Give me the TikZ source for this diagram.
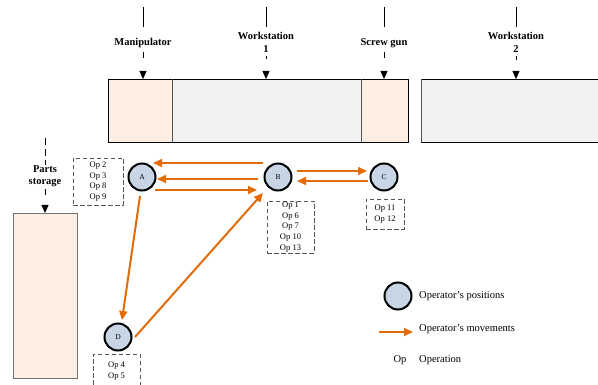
\documentclass[tikz,border=0pt]{standalone}
\usepackage{fontspec}
\setmainfont{Liberation Serif}
\usetikzlibrary{arrows.meta,calc}
\definecolor{peach}{HTML}{FDEEE3}
\definecolor{lgray}{HTML}{F2F2F2}
\definecolor{opblue}{HTML}{C8D5E5}
\definecolor{orng}{HTML}{E36C0A}
\definecolor{dgray}{HTML}{555555}
\definecolor{bgray}{HTML}{767171}
\begin{document}
\begin{tikzpicture}[x=1pt,y=-1pt,
  area/.style={draw=none, minimum width=#1, inner sep=0pt, anchor=north west, minimum height=63pt},
  lab/.style={font=\bfseries\fontsize{10.5}{13}\selectfont, fill=white, inner sep=1pt, align=center},
  feed/.style={line width=0.8pt, dash pattern=on 0pt off 3pt on 6pt off 40pt, -{Triangle[length=8pt,width=7pt]}},
  oppos/.style={circle, draw=black, line width=2pt, fill=opblue, minimum size=27pt, inner sep=0pt, font=\fontsize{7.5}{9}\selectfont},
  move/.style={draw=orng, line width=2pt, -{Triangle[length=9pt,width=8pt]}},
  opbox/.style={draw=dgray, line width=0.9pt, dash pattern=on 4.5pt off 2.5pt, inner sep=0pt, align=center, font=\fontsize{8.5}{10.7}\selectfont},
  legtext/.style={anchor=west, inner sep=0pt, font=\fontsize{10.5}{12}\selectfont}
]
\useasboundingbox (0,0) rectangle (598,385);
% workstation row
\node[area=64pt, fill=peach] (manip) at (108,79) {};
\node[area=189pt, fill=lgray] (ws1) at (172,79) {};
\node[area=47pt, fill=peach] (screw) at (361,79) {};
\node[area=180pt, fill=lgray] (ws2) at (421,79) {};
\draw[black, line width=0.9pt] (manip.north west) rectangle (screw.south east);
\draw[dgray, line width=0.8pt] (ws1.north west) -- (ws1.south west);
\draw[dgray, line width=0.8pt] (ws1.north east) -- (ws1.south east);
\draw[black, line width=0.9pt] (ws2.north east) -- (ws2.north west) -- (ws2.south west) -- (ws2.south east);
\draw[dgray, line width=0.9pt] (ws2.north west) -- (ws2.south west);
% parts storage
\node[draw=bgray, line width=1.2pt, fill=peach, minimum width=64pt, minimum height=165pt, inner sep=0pt, anchor=north west] (parts) at (13,213) {};
% top labels
\coordinate (tM) at (143,7);
\coordinate (tW1) at (266,7);
\coordinate (tS) at (384,7);
\coordinate (tW2) at (516,7);
\node[lab] (labM) at (143,43) {Manipulator};
\node[lab] (labW1) at (266,42.5) {Workstation\\1};
\node[lab] (labS) at (384,43) {Screw gun};
\node[lab] (labW2) at (516,42.5) {Workstation\\2};
\draw[line width=0.8pt] (tM) -- ++(0,20);
\draw[line width=0.8pt] (tW1) -- ++(0,20);
\draw[line width=0.8pt] (tS) -- ++(0,20);
\draw[line width=0.8pt] (tW2) -- ++(0,20);
\draw[feed] (labM.south) -- (labM |- manip.north);
\draw[feed, dash pattern=on 0pt off 2pt on 3pt off 40pt] (labW1.south) -- (labW1 |- ws1.north);
\draw[feed] (labS.south) -- (labS |- screw.north);
\draw[feed, dash pattern=on 0pt off 2pt on 4pt off 40pt] (labW2.south) -- (labW2 |- ws2.north);
% parts storage label
\coordinate (tP) at (45,138);
\node[lab, fill=white, font=\bfseries\fontsize{10.5}{12}\selectfont] (labP) at (45,176.5) {Parts\\storage};
\draw[line width=0.8pt, dash pattern=on 7pt off 4pt] (tP) -- (labP.north);
\draw[line width=0.8pt, dash pattern=on 0pt off 1pt on 6pt off 40pt, -{Triangle[length=8pt,width=7pt]}] (labP.south) -- (labP |- parts.north);
% operator positions
\node[oppos] (A) at (142,177) {A};
\node[oppos] (B) at (278,177) {B};
\node[oppos] (C) at (384,177) {C};
\node[oppos] (D) at (118,337) {D};
% operation boxes
\node[opbox, minimum width=50pt, minimum height=47pt] (opA) at (98,181.5) {Op 2\\Op 3\\Op 8\\Op 9};
\node[opbox, minimum width=47pt, minimum height=52pt] (opB) at (290.5,227) {Op 1\\Op 6\\Op 7\\Op 10\\Op 13};
\node[opbox, minimum width=38pt, minimum height=30pt] (opC) at (385,214) {Op 11\\Op 12};
\node[opbox, minimum width=47pt, minimum height=34pt] (opD) at (116.5,371) {Op 4\\Op 5};
% movements
\draw[move] ($(B)+(-15,-14)$) -- ($(A)+(11,-14)$);
\draw[move] ($(B)+(-20,2)$) -- ($(A)+(15,2)$);
\draw[move] ($(A)+(13,13)$) -- ($(B)+(-21,13)$);
\draw[move] ($(B)+(19,-6)$) -- ($(C)+(-17,-6)$);
\draw[move] ($(C)+(-16,4)$) -- ($(B)+(19,4)$);
\draw[move] ($(A)+(-2,19)$) -- ($(D)+(4,-17)$);
\draw[move] ($(D)+(17,0)$) -- ($(B)+(-15,16)$);
% legend
\node[oppos] (legC) at (398,296) {};
\node[legtext] (legT1) at (419,296) {Operator’s positions};
\coordinate (legA1) at (379,332);
\coordinate (legA2) at (413,332);
\draw[move] (legA1) -- (legA2);
\node[legtext] (legT2) at (419,329) {Operator’s movements};
\node[inner sep=0pt, font=\fontsize{10.5}{12}\selectfont] (legOp) at (400,360) {Op};
\node[legtext] (legT3) at (419,360) {Operation};
\end{tikzpicture}
\end{document}
